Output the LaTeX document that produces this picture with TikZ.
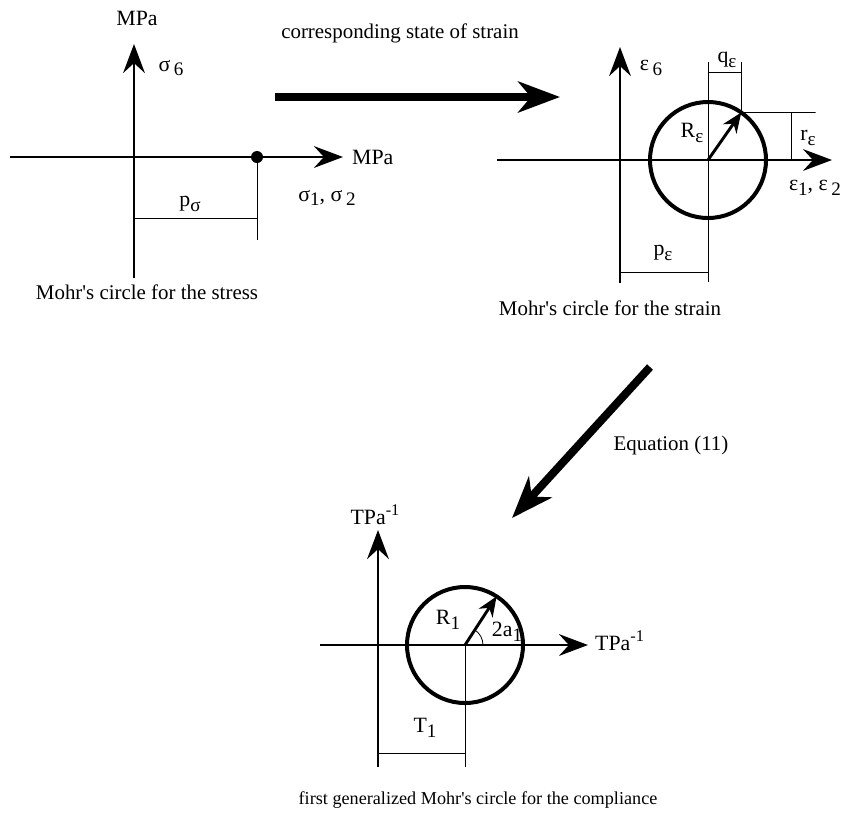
\documentclass[tikz,border=0pt]{standalone}
\usepackage{fontspec}
\setmainfont{Liberation Serif}
\usetikzlibrary{arrows.meta,positioning,calc}

% lowered, nearly full size index as in the scan
\newcommand{\idx}[1]{\raisebox{-0.45ex}{\fontsize{10.5}{12}\selectfont #1}}
\newcommand{\pwr}[1]{\raisebox{0.9ex}{\fontsize{9}{10}\selectfont #1}}

\tikzset{
  axis/.style={line width=0.8pt,-{Stealth[length=16pt,width=12pt,inset=5.5pt]}},
  dimline/.style={line width=0.45pt},
  mohr/.style={line width=2.2pt},
  radarrow/.style={line width=1.6pt,-{Stealth[length=11pt,width=9pt,inset=3.5pt]}},
  bigarrow/.style={line width=4.4pt,-{Stealth[length=23pt,width=17pt,inset=7pt]}},
  lbl/.style={font=\fontsize{12}{14}\selectfont,inner sep=1pt},
  caption/.style={font=\fontsize{11.5}{14}\selectfont,inner sep=1pt},
}

\begin{document}
\begin{tikzpicture}[x=0.55pt,y=0.55pt]
\useasboundingbox (0,0) rectangle (846,-816);

% stress
\coordinate (s-xl) at (10,-157);
\coordinate (s-xr) at (343,-157);
\coordinate (s-yb) at (134,-278);
\coordinate (s-yt) at (134,-44);
\draw[axis] (s-xl) -- (s-xr);
\draw[axis] (s-yb) -- (s-yt);
\node[lbl] (s-ylab) at (137,-18) {MPa};
\node[lbl] (s-sig6) at (171,-68) {σ\,\idx{6}};
\node[lbl,anchor=west] (s-xlab) at (350,-157) {MPa};
\node[lbl] (s-sig12) at (327,-198) {σ\idx{1}, σ\,\idx{2}};
\node[circle,fill,inner sep=0pt,minimum size=6.6pt] (s-p) at (257,-157) {};
\coordinate (s-pb) at (257,-240);
\draw[dimline] (s-p) -- (s-pb);
\coordinate (s-d1) at (134,-218);
\coordinate (s-d2) at (257,-218);
\draw[dimline] (s-d1) -- (s-d2);
\node[lbl] (s-plab) at (190,-204) {p\idx{σ}};
\node[caption] (s-cap) at (147,-292) {Mohr\textquotesingle s circle for the stress};

% stress -> strain
\coordinate (h-a) at (275,-97);
\coordinate (h-b) at (560,-97);
\draw[bigarrow] (h-a) -- (h-b);
\node[caption] (h-lab) at (400,-33) {corresponding state of strain};

% strain
\coordinate (e-xl) at (497,-160);
\coordinate (e-xr) at (832,-160);
\coordinate (e-yb) at (620,-283);
\coordinate (e-yt) at (620,-47);
\coordinate (e-c) at (708,-160);
\draw[axis] (e-xl) -- (e-xr);
\draw[axis] (e-yb) -- (e-yt);
\draw[mohr] (e-c) circle[radius=58];
\coordinate (e-t) at ($(e-c)+(55:58)$);
\coordinate (e-ctop) at (708,-62);
\coordinate (e-cbot) at (708,-282);
\draw[dimline] (e-ctop) -- (e-cbot);
\draw[radarrow] (e-c) -- (e-t);
% q, r and p dimensions
\coordinate (e-qtop) at (e-t |- e-ctop);
\draw[dimline] (e-t) -- (e-qtop);
\coordinate (e-q1) at (708,-72);
\coordinate (e-q2) at (e-t |- e-q1);
\draw[dimline] (e-q1) -- (e-q2);
\coordinate (e-rend) at (815,-112.5);
\draw[dimline] (e-t) -- (e-t -| e-rend) -- (e-rend);
\coordinate (e-r1) at (791,-112.5);
\coordinate (e-r2) at (791,-160);
\draw[dimline] (e-r1) -- (e-r2);
\coordinate (e-p1) at (620,-272);
\coordinate (e-p2) at (708,-272);
\draw[dimline] (e-p1) -- (e-p2);
\node[lbl] (e-eps6) at (651,-68) {ε\,\idx{6}};
\node[lbl] (e-qlab) at (727,-60) {q\idx{ε}};
\node[lbl] (e-Rlab) at (692,-133) {R\idx{ε}};
\node[lbl] (e-rlab) at (808,-138) {r\idx{ε}};
\node[lbl] (e-eps12) at (815,-188) {ε\idx{1}, ε\,\idx{2}};
\node[lbl] (e-plab) at (663,-253) {p\idx{ε}};
\node[caption] (e-cap) at (610,-308) {Mohr\textquotesingle s circle for the strain};

% strain -> compliance
\coordinate (d-a) at (650,-367);
\coordinate (d-b) at (512,-518);
\draw[bigarrow] (d-a) -- (d-b);
\node[caption] (d-lab) at (671,-445) {Equation (11)};

% compliance
\coordinate (c-xl) at (320,-645);
\coordinate (c-xr) at (588,-645);
\coordinate (c-yb) at (378,-767);
\coordinate (c-yt) at (378,-530);
\coordinate (c-c) at (465,-645);
\draw[axis] (c-xl) -- (c-xr);
\draw[axis] (c-yb) -- (c-yt);
\draw[mohr] (c-c) circle[radius=58];
\coordinate (c-t) at ($(c-c)+(57:58)$);
\draw[radarrow] (c-c) -- (c-t);
\draw[dimline] ($(c-c)+(18,0)$) arc[start angle=0,end angle=57,radius=18];
\coordinate (c-cbot) at (465,-767);
\draw[dimline] (c-c) -- (c-cbot);
\coordinate (c-t1) at (378,-753);
\coordinate (c-t2) at (465,-753);
\draw[dimline] (c-t1) -- (c-t2);
\node[lbl] (c-ylab) at (375,-515) {TPa\pwr{-1}};
\node[lbl,anchor=west] (c-xlab) at (593,-641) {TPa\pwr{-1}};
\node[lbl] (c-Rlab) at (448,-620) {R\idx{1}};
\node[lbl] (c-alab) at (507,-632) {2a\idx{1}};
\node[lbl] (c-Tlab) at (425,-728) {T\idx{1}};
\node[caption,font=\fontsize{10}{12}\selectfont] (c-cap) at (478,-800) {first generalized Mohr\textquotesingle s circle for the compliance};
\end{tikzpicture}
\end{document}
